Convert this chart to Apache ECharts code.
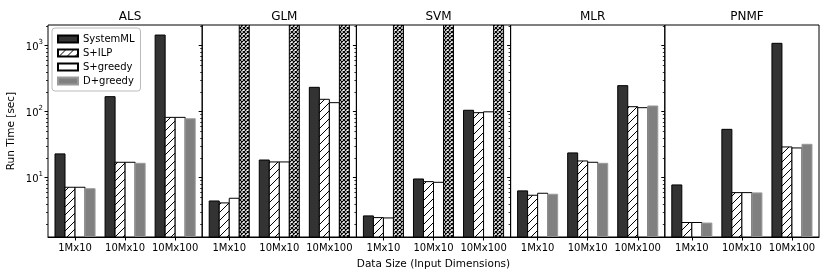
<!DOCTYPE html>
<html>
<head>
<meta charset="utf-8">
<script src="https://cdn.jsdelivr.net/npm/echarts@6/dist/echarts.min.js"></script>
<style>html,body{margin:0;padding:0;background:#fff;}#chart{width:830px;height:277px;}</style>
</head>
<body>
<div id="chart"></div>
<script>
// ---- data ----
const panels = ['ALS', 'GLM', 'SVM', 'MLR', 'PNMF'];
const categories = ['1Mx10', '10Mx10', '10Mx100'];
const seriesNames = ['SystemML', 'S+ILP', 'S+greedy', 'D+greedy'];
// values per panel: [1Mx10, 10Mx10, 10Mx100]
const systemML = {ALS: [22.9, 169, 1450], GLM: [4.43, 18.5, 234], SVM: [2.63, 9.55, 105], MLR: [6.3, 23.7, 248], PNMF: [7.75, 54, 1087]};
const sILP     = {ALS: [7.15, 17.1, 82],  GLM: [4.14, 17.3, 154], SVM: [2.48, 8.7, 96.6], MLR: [5.41, 17.9, 119], PNMF: [2.09, 5.93, 29.2]};
const sGreedy  = {ALS: [7.15, 17.1, 82],  GLM: [4.87, 17.3, 137], SVM: [2.45, 8.5, 99.5], MLR: [5.8, 17.1, 115],  PNMF: [2.09, 5.93, 28.2]};
const dGreedy  = {ALS: [6.8, 16.5, 78],   GLM: [null, null, null], SVM: [null, null, null], MLR: [5.6, 16.5, 122], PNMF: [2.05, 5.87, 32]};
// D+greedy not available (drawn as cross-hatched full-height bars)
const dGreedyFailed = {ALS: [false, false, false], GLM: [true, true, true], SVM: [true, true, true], MLR: [false, false, false], PNMF: [false, false, false]};
const yTicksMajor = [10, 100, 1000];
const yTicksMinor = [2,3,4,5,6,7,8,9,20,30,40,50,60,70,80,90,200,300,400,500,600,700,800,900,2000];
const allValues = [systemML, sILP, sGreedy, dGreedy];

// ---- layout ----
const YMIN = 1.26, YMAX = 2060;
const LEFT0 = 48, PW = 154.2, TOP = 25, PH = 212;
const FONT = 'DejaVu Sans';

function hatchPattern() {
  const c = document.createElement('canvas');
  c.width = 8; c.height = 8;
  const g = c.getContext('2d');
  g.fillStyle = '#fff'; g.fillRect(0, 0, 8, 8);
  g.strokeStyle = '#000'; g.lineWidth = 1;
  g.beginPath();
  g.moveTo(0, 8); g.lineTo(8, 0);
  g.moveTo(-1, 1); g.lineTo(1, -1);
  g.moveTo(7, 9); g.lineTo(9, 7);
  g.stroke();
  return c;
}
function crossPattern() {
  const c = document.createElement('canvas');
  c.width = 4; c.height = 4;
  const g = c.getContext('2d');
  g.fillStyle = '#fff'; g.fillRect(0, 0, 4, 4);
  g.strokeStyle = '#000'; g.lineWidth = 1.2;
  g.beginPath();
  g.moveTo(0, 0); g.lineTo(4, 4);
  g.moveTo(0, 4); g.lineTo(4, 0);
  g.stroke();
  return c;
}
const hatch = {image: hatchPattern(), repeat: 'repeat'};
const cross = {image: crossPattern(), repeat: 'repeat'};

const styles = [
  {color: '#333333', borderColor: '#000', borderWidth: 1},
  {color: hatch, borderColor: '#000', borderWidth: 1},
  {color: '#ffffff', borderColor: '#000', borderWidth: 1},
  {color: '#808080', borderColor: '#9a9a9a', borderWidth: 1}
];

function makeRender(j) {
  return function (params, api) {
    const k = api.value(0), v = api.value(1);
    const p1 = api.coord([k + (j - 2) * 0.2, v]);
    const p2 = api.coord([k + (j - 1) * 0.2, YMIN]);
    return {
      type: 'rect',
      shape: {x: p1[0], y: p1[1], width: p2[0] - p1[0], height: p2[1] - p1[1]},
      style: api.style()
    };
  };
}

const grid = [], xAxis = [], yAxis = [], series = [], title = [];
panels.forEach((p, i) => {
  const left = LEFT0 + i * PW;
  grid.push({left: left, top: TOP, width: PW, height: PH, show: true, borderColor: '#000', borderWidth: 1, backgroundColor: 'transparent'});
  title.push({text: p, left: left + PW / 2, top: 6, textAlign: 'center',
    textStyle: {fontFamily: FONT, fontSize: 12, fontWeight: 'normal', color: '#000'}});
  xAxis.push({
    type: 'value', gridIndex: i, min: -0.54, max: 2.54,
    axisLine: {show: true, onZero: false, lineStyle: {color: '#000', width: 1}},
    axisTick: {show: true, customValues: [0, 1, 2], length: 3.5, lineStyle: {color: '#000', width: 1}},
    axisLabel: {show: true, customValues: [0, 1, 2], formatter: v => categories[Math.round(v)],
      fontFamily: FONT, fontSize: 10, color: '#000', margin: 6},
    splitLine: {show: false},
    name: i === 2 ? 'Data Size (Input Dimensions)' : '',
    nameLocation: 'middle', nameGap: 22,
    nameTextStyle: {fontFamily: FONT, fontSize: 10.5, color: '#000'}
  });
  yAxis.push({
    type: 'log', gridIndex: i, min: YMIN, max: YMAX, position: 'left',
    axisLine: {show: false, onZero: false},
    axisTick: {show: true, customValues: yTicksMajor, length: 3.5, lineStyle: {color: '#000', width: 1}},
    axisLabel: {show: i === 0, customValues: yTicksMajor,
      formatter: v => '{b|10}{s|' + Math.round(Math.log10(v)) + '}',
      rich: {b: {fontFamily: FONT, fontSize: 10, color: '#000', lineHeight: 14, verticalAlign: 'bottom'},
             s: {fontFamily: FONT, fontSize: 7, color: '#000', lineHeight: 14, verticalAlign: 'top'}},
      margin: 5},
    splitLine: {show: false},
    name: i === 0 ? 'Run Time [sec]' : '',
    nameLocation: 'middle', nameGap: 31,
    nameTextStyle: {fontFamily: FONT, fontSize: 10.5, color: '#000'}
  });
});
panels.forEach((p, i) => {
  yAxis.push({
    type: 'log', gridIndex: i, min: YMIN, max: YMAX, position: 'left',
    axisLine: {show: false, onZero: false},
    axisTick: {show: true, customValues: yTicksMinor, length: 2, lineStyle: {color: '#000', width: 0.8}},
    axisLabel: {show: false},
    splitLine: {show: false}
  });
});

panels.forEach((p, i) => {
  seriesNames.forEach((name, j) => {
    const vals = allValues[j][p];
    const data = [];
    vals.forEach((v, k) => { if (v != null) data.push([k, v]); });
    series.push({
      type: 'custom', name: name, xAxisIndex: i, yAxisIndex: i,
      renderItem: makeRender(j), itemStyle: styles[j], data: data, clip: true,
      encode: {x: 0, y: 1}, silent: true
    });
  });
  const fail = [];
  dGreedyFailed[p].forEach((f, k) => { if (f) fail.push([k, YMAX]); });
  if (fail.length) {
    series.push({
      type: 'custom', name: 'n/a', xAxisIndex: i, yAxisIndex: i,
      renderItem: makeRender(3), itemStyle: {color: cross, borderColor: '#000', borderWidth: 1},
      data: fail, clip: true, encode: {x: 0, y: 1}, silent: true
    });
  }
});

const chart = echarts.init(document.getElementById('chart'), null, {renderer: 'canvas'});
chart.setOption({
  animation: false,
  backgroundColor: '#fff',
  title: title,
  legend: {
    data: seriesNames.map(n => ({name: n, icon: 'rect'})),
    orient: 'vertical', left: 52, top: 28,
    itemWidth: 20, itemHeight: 7, itemGap: 4,
    padding: [6, 6, 5, 5],
    borderColor: '#bbb', borderWidth: 1, borderRadius: 3, backgroundColor: 'rgba(255,255,255,0.8)',
    textStyle: {fontFamily: FONT, fontSize: 10, color: '#000'},
    selectedMode: false
  },
  grid: grid, xAxis: xAxis, yAxis: yAxis, series: series
});
</script>
</body>
</html>
